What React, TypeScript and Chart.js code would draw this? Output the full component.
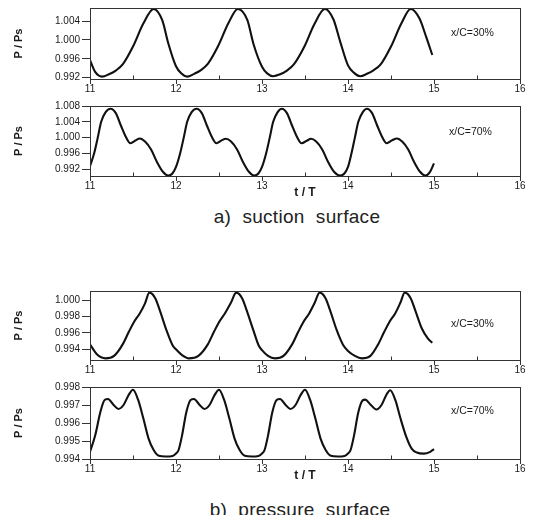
import React, { useEffect, useRef } from 'react';
import { Chart, registerables } from 'chart.js';

Chart.register(...registerables);

// ---------- data ----------
// a) suction surface, x/C = 30%
const T_S30 = [
  11.00, 11.06, 11.14, 11.22, 11.30, 11.38, 11.50, 11.62, 11.74, 11.84, 11.91,
  12.00, 12.06, 12.13, 12.21, 12.29, 12.37, 12.49, 12.61, 12.72, 12.83, 12.90,
  13.00, 13.06, 13.13, 13.21, 13.29, 13.37, 13.49, 13.61, 13.73, 13.83, 13.91,
  14.00, 14.07, 14.14, 14.22, 14.30, 14.38, 14.50, 14.62, 14.73, 14.83, 14.91, 14.98,
];
const P_S30 = [
  0.9957, 0.9932, 0.9922, 0.9927, 0.9935, 0.9948, 0.9986, 1.0035, 1.0066, 1.0042, 0.9993,
  0.9944, 0.9929, 0.9922, 0.9928, 0.9936, 0.9949, 0.9987, 1.0036, 1.0066, 1.0042, 0.9992,
  0.9943, 0.9929, 0.9923, 0.9927, 0.9935, 0.9948, 0.9985, 1.0034, 1.0066, 1.0044, 0.9996,
  0.9946, 0.9930, 0.9923, 0.9928, 0.9936, 0.9948, 0.9986, 1.0035, 1.0066, 1.0046, 1.0006, 0.9968,
];

// a) suction surface, x/C = 70%
const T_S70 = [
  11.00, 11.05, 11.09, 11.13, 11.18, 11.24, 11.30, 11.36, 11.41, 11.47, 11.53, 11.58, 11.64, 11.71, 11.78, 11.85, 11.91, 11.96,
  12.00, 12.05, 12.09, 12.13, 12.18, 12.24, 12.30, 12.36, 12.41, 12.47, 12.53, 12.58, 12.64, 12.71, 12.78, 12.85, 12.91, 12.96,
  13.00, 13.05, 13.09, 13.13, 13.18, 13.23, 13.29, 13.35, 13.40, 13.46, 13.52, 13.57, 13.63, 13.70, 13.77, 13.84, 13.91, 13.96,
  14.00, 14.04, 14.08, 14.12, 14.17, 14.22, 14.28, 14.34, 14.39, 14.45, 14.51, 14.57, 14.63, 14.70, 14.77, 14.84, 14.90, 14.95, 15.00,
];
const P_S70 = [
  0.9928, 0.9962, 1.0000, 1.0040, 1.0064, 1.0073, 1.0062, 1.0030, 1.0005, 0.9986, 0.9993, 0.9998, 0.9990, 0.9970, 0.9938, 0.9913, 0.9904, 0.9910,
  0.9926, 0.9962, 1.0000, 1.0040, 1.0064, 1.0073, 1.0062, 1.0030, 1.0005, 0.9986, 0.9993, 0.9997, 0.9990, 0.9970, 0.9938, 0.9913, 0.9904, 0.9910,
  0.9926, 0.9962, 1.0000, 1.0040, 1.0064, 1.0073, 1.0062, 1.0030, 1.0005, 0.9986, 0.9992, 0.9997, 0.9990, 0.9970, 0.9938, 0.9913, 0.9904, 0.9910,
  0.9926, 0.9960, 1.0000, 1.0040, 1.0064, 1.0073, 1.0062, 1.0030, 1.0005, 0.9986, 0.9993, 0.9998, 0.9990, 0.9970, 0.9938, 0.9913, 0.9904, 0.9912, 0.9935,
];

// b) pressure surface, x/C = 30%
const T_P30 = [
  11.00, 11.08, 11.18, 11.28, 11.38, 11.45, 11.51, 11.58, 11.64, 11.69, 11.76, 11.81, 11.89, 11.96,
  12.00, 12.07, 12.15, 12.26, 12.37, 12.44, 12.50, 12.57, 12.64, 12.70, 12.77, 12.82, 12.90, 12.96,
  13.00, 13.07, 13.15, 13.25, 13.35, 13.42, 13.48, 13.55, 13.61, 13.67, 13.74, 13.79, 13.87, 13.94,
  14.00, 14.08, 14.16, 14.26, 14.35, 14.42, 14.48, 14.55, 14.61, 14.66, 14.73, 14.78, 14.86, 14.93, 14.98,
];
const P_P30 = [
  0.9946, 0.9934, 0.9929, 0.9932, 0.9946, 0.9961, 0.9973, 0.9984, 0.9996, 1.0009, 1.0002, 0.9988, 0.9963, 0.9945,
  0.9940, 0.9933, 0.9929, 0.9932, 0.9946, 0.9961, 0.9973, 0.9984, 0.9997, 1.0009, 1.0002, 0.9988, 0.9963, 0.9945,
  0.9939, 0.9932, 0.9929, 0.9932, 0.9946, 0.9961, 0.9973, 0.9984, 0.9996, 1.0009, 1.0002, 0.9988, 0.9963, 0.9946,
  0.9938, 0.9932, 0.9929, 0.9932, 0.9946, 0.9961, 0.9973, 0.9984, 0.9997, 1.0009, 1.0002, 0.9988, 0.9965, 0.9953, 0.9948,
];

// b) pressure surface, x/C = 70%
const T_P70 = [
  11.00, 11.06, 11.12, 11.17, 11.21, 11.27, 11.33, 11.39, 11.45, 11.50, 11.56, 11.62, 11.68, 11.74, 11.80, 11.88, 11.96,
  12.00, 12.03, 12.07, 12.12, 12.17, 12.21, 12.27, 12.33, 12.39, 12.45, 12.50, 12.56, 12.62, 12.68, 12.74, 12.80, 12.88, 12.96,
  13.00, 13.03, 13.07, 13.12, 13.17, 13.21, 13.27, 13.33, 13.39, 13.45, 13.50, 13.56, 13.62, 13.68, 13.74, 13.80, 13.88, 13.96,
  14.00, 14.03, 14.07, 14.12, 14.17, 14.20, 14.26, 14.33, 14.39, 14.45, 14.49, 14.55, 14.61, 14.68, 14.74, 14.80, 14.88, 14.95, 15.00,
];
const P_P70 = [
  0.9944, 0.9953, 0.9966, 0.99728, 0.99733, 0.99703, 0.99678, 0.99700, 0.99756, 0.99785, 0.99728, 0.99626, 0.99515, 0.99450, 0.99418, 0.99414, 0.99417,
  0.9943, 0.9945, 0.9953, 0.9966, 0.99728, 0.99733, 0.99703, 0.99678, 0.99700, 0.99756, 0.99785, 0.99728, 0.99626, 0.99515, 0.99450, 0.99418, 0.99414, 0.99417,
  0.9943, 0.9945, 0.9953, 0.9966, 0.99728, 0.99733, 0.99703, 0.99678, 0.99700, 0.99756, 0.99785, 0.99728, 0.99626, 0.99515, 0.99450, 0.99418, 0.99414, 0.99417,
  0.9943, 0.9945, 0.9953, 0.9966, 0.99726, 0.99730, 0.99703, 0.99675, 0.99700, 0.99760, 0.99782, 0.99728, 0.99626, 0.99520, 0.99458, 0.99436, 0.99430, 0.99438, 0.99455,
];

const X_TICKS = [11, 12, 13, 14, 15, 16];
const X_MINOR = [11.5, 12.5, 13.5, 14.5, 15.5];
const Y_TICKS_S30 = [0.992, 0.996, 1.0, 1.004];
const Y_TICKS_S70 = [0.992, 0.996, 1.0, 1.004, 1.008];
const Y_TICKS_P30 = [0.994, 0.996, 0.998, 1.0];
const Y_TICKS_P70 = [0.994, 0.995, 0.996, 0.997, 0.998];

const Y_TITLE = 'P / Ps';
const X_TITLE = 't / T';
const LABEL_30 = 'x/C=30%';
const LABEL_70 = 'x/C=70%';
const TITLE_A = 'a)  suction  surface';
const TITLE_B = 'b)  pressure  surface';

const FONT = "'Liberation Sans', Arial, Helvetica, sans-serif";
const INK = '#1a1a1a';

const framePlugin = {
  id: 'frame',
  afterDraw(chart: any) {
    const { ctx, chartArea: a, scales } = chart;
    ctx.save();
    ctx.strokeStyle = '#333';
    ctx.lineWidth = 1;
    const l = Math.round(a.left) + 0.5;
    const t = Math.round(a.top) + 0.5;
    const r = Math.round(a.right) + 0.5;
    const b = Math.round(a.bottom) + 0.5;
    ctx.strokeRect(l, t, r - l, b - t);
    ctx.beginPath();
    X_MINOR.forEach((v) => {
      const x = Math.round(scales.x.getPixelForValue(v)) + 0.5;
      ctx.moveTo(x, b);
      ctx.lineTo(x, b - 4);
    });
    ctx.stroke();
    ctx.restore();
  },
};

type PanelProps = {
  t: number[];
  p: number[];
  yMin: number;
  yMax: number;
  yTicks: number[];
  xTitle: boolean;
  top: number; // container-relative canvas top
  plotH: number;
};

const PAD_TOP = 10;
const CANVAS_W = 522;
const Y_W = 82;

function Panel({ t, p, yMin, yMax, yTicks, xTitle, top, plotH }: PanelProps) {
  const ref = useRef<HTMLCanvasElement>(null);
  const xH = xTitle ? 24 : 16;
  const h = PAD_TOP + plotH + xH;

  useEffect(() => {
    if (!ref.current) return;
    const chart = new Chart(ref.current, {
      type: 'line',
      data: {
        datasets: [
          {
            data: t.map((x, i) => ({ x, y: p[i] })),
            borderColor: '#111',
            borderWidth: 2.1,
            pointRadius: 0,
            fill: false,
            cubicInterpolationMode: 'monotone',
          },
        ],
      },
      options: {
        responsive: false,
        animation: false,
        devicePixelRatio: 1,
        layout: { padding: { top: PAD_TOP, right: 10, bottom: 0, left: 0 } },
        plugins: { legend: { display: false }, tooltip: { enabled: false } },
        scales: {
          x: {
            type: 'linear',
            min: 11,
            max: 16,
            afterBuildTicks: (s: any) => {
              s.ticks = X_TICKS.map((v) => ({ value: v }));
            },
            afterFit: (s: any) => {
              s.height = xH;
            },
            border: { display: false },
            grid: { drawOnChartArea: false, tickLength: 5, color: '#333', tickColor: '#333' },
            ticks: {
              autoSkip: false,
              maxRotation: 0,
              padding: -1,
              color: INK,
              font: { family: FONT, size: 10 },
              callback: (v: any) => String(v),
            },
            title: {
              display: xTitle,
              text: X_TITLE,
              color: INK,
              font: { family: FONT, size: 12, weight: 'bold' },
              padding: { top: 0, bottom: 0 },
            },
          },
          y: {
            type: 'linear',
            min: yMin,
            max: yMax,
            afterBuildTicks: (s: any) => {
              s.ticks = yTicks.map((v) => ({ value: v }));
            },
            afterFit: (s: any) => {
              s.width = Y_W;
            },
            border: { display: false },
            grid: { drawOnChartArea: false, tickLength: 8, color: '#333', tickColor: '#333' },
            ticks: {
              autoSkip: false,
              padding: 2,
              color: INK,
              font: { family: FONT, size: 10 },
              callback: (v: any) => Number(v).toFixed(3),
            },
            title: {
              display: true,
              text: Y_TITLE,
              color: INK,
              font: { family: FONT, size: 11, weight: 'bold' },
              padding: { top: 4, bottom: 0 },
            },
          },
        },
      } as any,
      plugins: [framePlugin],
    });
    return () => chart.destroy();
  }, []);

  return (
    <canvas
      ref={ref}
      width={CANVAS_W}
      height={h}
      style={{ position: 'absolute', left: 0, top, width: CANVAS_W, height: h }}
    />
  );
}

const noteStyle = (left: number, top: number): React.CSSProperties => ({
  position: 'absolute',
  left,
  top,
  fontFamily: FONT,
  fontSize: 10.5,
  lineHeight: '12px',
  color: INK,
  whiteSpace: 'nowrap',
});

const titleStyle = (left: number, top: number): React.CSSProperties => ({
  position: 'absolute',
  left,
  top,
  width: 300,
  textAlign: 'center',
  fontFamily: FONT,
  fontSize: 19,
  lineHeight: '19px',
  letterSpacing: 0.3,
  color: '#222',
  whiteSpace: 'pre',
});

export default function App() {
  return (
    <div style={{ position: 'relative', width: 518, height: 507 }}>
      <Panel t={T_S30} p={P_S30} yMin={0.9917} yMax={1.0068} yTicks={Y_TICKS_S30} xTitle={false} top={-10} plotH={71} />
      <Panel t={T_S70} p={P_S70} yMin={0.9903} yMax={1.008} yTicks={Y_TICKS_S70} xTitle={true} top={88} plotH={70} />
      <Panel t={T_P30} p={P_P30} yMin={0.9927} yMax={1.0011} yTicks={Y_TICKS_P30} xTitle={false} top={273} plotH={69} />
      <Panel t={T_P70} p={P_P70} yMin={0.994} yMax={0.998} yTicks={Y_TICKS_P70} xTitle={true} top={369} plotH={72} />
      <div style={noteStyle(443, 18)}>{LABEL_30}</div>
      <div style={noteStyle(441, 117)}>{LABEL_70}</div>
      <div style={noteStyle(443, 309)}>{LABEL_30}</div>
      <div style={noteStyle(443, 396)}>{LABEL_70}</div>
      <div style={titleStyle(139, 199)}>{TITLE_A}</div>
      <div style={titleStyle(142, 492)}>{TITLE_B}</div>
    </div>
  );
}
